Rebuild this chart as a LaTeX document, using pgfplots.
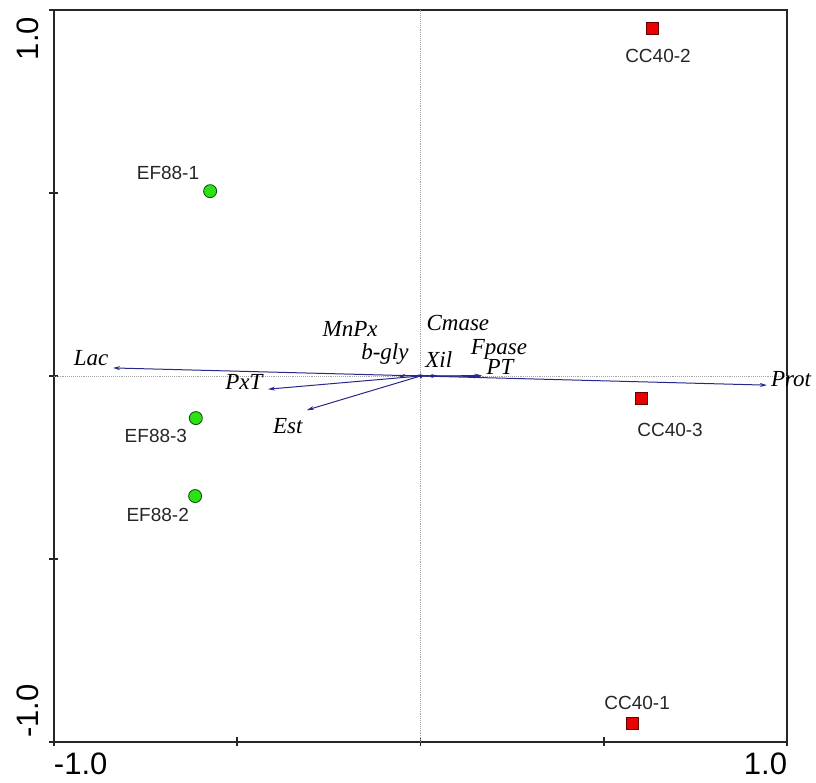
\documentclass[border=0pt]{standalone}
\usepackage{pgfplots}
\pgfplotsset{compat=1.18}
\usepackage{fontspec}
\setmainfont{Liberation Sans}
\newfontfamily\serifit{Liberation Serif}[ItalicFont=* Italic]
\usetikzlibrary{arrows.meta}
\definecolor{ptgreen}{RGB}{45,225,20}
\definecolor{ptred}{RGB}{235,0,0}
\definecolor{arrowblue}{RGB}{40,40,140}
\begin{document}
\begin{tikzpicture}
\useasboundingbox (0,0) rectangle (816pt,783pt);
\begin{axis}[
  at={(54pt,41pt)}, anchor=south west,
  scale only axis, width=733pt, height=732pt,
  xmin=-1, xmax=1, ymin=-1, ymax=1,
  clip=false,
  axis line style={line width=1.6pt, black!85},
  xtick={-1,-0.5,0,0.5,1}, ytick={-1,-0.5,0,0.5,1},
  xtick pos=bottom, ytick pos=left,
  tick align=center, major tick length=9pt,
  every tick/.style={line width=1.8pt, black!85},
  xticklabel={\ifnum\ticknum=0 \makebox[0pt][l]{-1.0}\else\ifnum\ticknum=4 \makebox[0pt][r]{1.0}\fi\fi},
  yticklabel={\ifnum\ticknum=0 \makebox[0pt][l]{\hspace{4pt}-1.0}\else\ifnum\ticknum=4 \makebox[0pt][r]{1.0\hspace{7pt}}\fi\fi},
  xticklabel style={font=\fontsize{31}{31}\selectfont, anchor=north, yshift=-6pt, inner sep=0pt},
  yticklabel style={xshift=-10pt, font=\fontsize{31}{31}\selectfont, rotate=90, anchor=south, inner sep=0pt},
]
% reference lines
\addplot[gray!70, densely dotted, line width=0.9pt] coordinates {(0,-1) (0,1)};
\addplot[gray!70, densely dotted, line width=0.9pt] coordinates {(-1,0) (1,0)};
% arrows
\addplot[arrowblue, line width=1pt, -{Stealth[length=7pt,width=4pt]}] coordinates {(0,0) (-0.839,0.022)};
\addplot[arrowblue, line width=1pt, -{Stealth[length=7pt,width=4pt]}] coordinates {(0,0) (-0.416,-0.036)};
\addplot[arrowblue, line width=1pt, -{Stealth[length=7pt,width=4pt]}] coordinates {(0,0) (-0.310,-0.093)};
\addplot[arrowblue, line width=1pt, -{Stealth[length=7pt,width=4pt]}] coordinates {(0,0) (-0.061,0.000)};
\addplot[arrowblue, line width=1pt, -{Stealth[length=5pt,width=4pt]}] coordinates {(0,0) (-0.008,0.004)};
\addplot[arrowblue, line width=1pt, -{Stealth[length=5pt,width=4pt]}] coordinates {(0,0) (0.004,-0.006)};
\addplot[arrowblue, line width=1pt, -{Stealth[length=7pt,width=4pt]}] coordinates {(0,0) (0.048,0.000)};
\addplot[arrowblue, line width=1pt, -{Stealth[length=7pt,width=4pt]}] coordinates {(0,0) (0.168,0.001)};
\addplot[arrowblue, line width=1pt, -{Stealth[length=7pt,width=4pt]}] coordinates {(0,0) (0.165,-0.001)};
\addplot[arrowblue, line width=1pt, -{Stealth[length=7pt,width=4pt]}] coordinates {(0,0) (0.945,-0.025)};
% arrow labels
\begin{scope}[font=\serifit\itshape\fontsize{23}{23}\selectfont]
\node[anchor=base] at (axis cs:-0.899,0.030) {Lac};
\node[anchor=base] at (axis cs:-0.192,0.107) {MnPx};
\node[anchor=base] at (axis cs:-0.097,0.044) {b-gly};
\node[anchor=base] at (axis cs:-0.482,-0.036) {PxT};
\node[anchor=base] at (axis cs:-0.362,-0.156) {Est};
\node[anchor=base] at (axis cs:0.102,0.123) {Cmase};
\node[anchor=base] at (axis cs:0.050,0.022) {Xil};
\node[anchor=base] at (axis cs:0.214,0.060) {Fpase};
\node[anchor=base] at (axis cs:0.217,0.004) {PT};
\node[anchor=base] at (axis cs:1.011,-0.030) {Prot};
\end{scope}
% samples
\addplot[only marks, mark=*, mark size=6.5pt, mark options={fill=ptgreen, draw=black!70!green, line width=0.8pt}]
  coordinates {(-0.574,0.505) (-0.613,-0.115) (-0.615,-0.328)};
\addplot[only marks, mark=square*, mark size=6pt, mark options={fill=ptred, draw=black!60!red, line width=0.8pt}]
  coordinates {(0.632,0.951) (0.602,-0.060) (0.577,-0.948)};
\begin{scope}[font=\fontsize{19}{19}\selectfont, text=black!85]
\node at (axis cs:-0.689,0.555) {EF88-1};
\node at (axis cs:-0.722,-0.164) {EF88-3};
\node at (axis cs:-0.717,-0.380) {EF88-2};
\node at (axis cs:0.648,0.874) {CC40-2};
\node at (axis cs:0.681,-0.148) {CC40-3};
\node at (axis cs:0.591,-0.893) {CC40-1};
\end{scope}
\end{axis}
\end{tikzpicture}
\end{document}
